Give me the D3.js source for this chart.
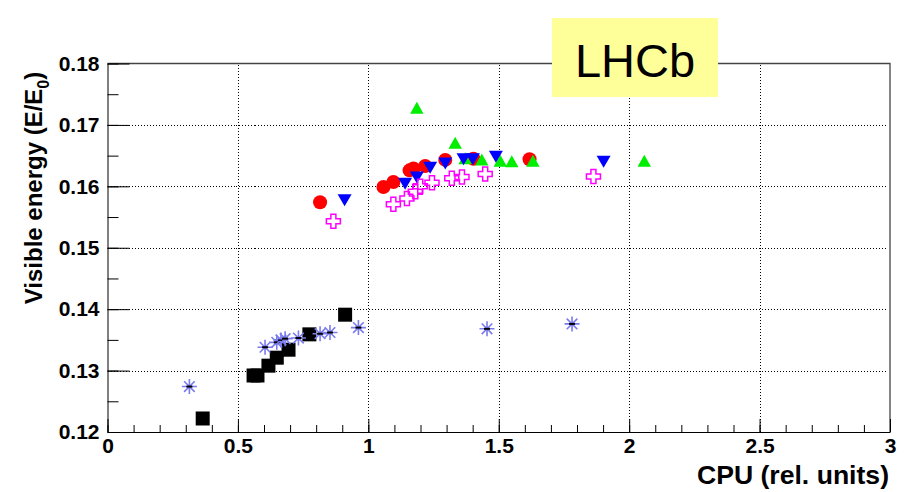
<!DOCTYPE html>
<html lang="en">
<head>
<meta charset="UTF-8">
<title>Visible energy vs CPU</title>
<script src="https://cdn.jsdelivr.net/npm/d3@7"></script>
<style>
    body { margin: 0; background: #fff; }
    svg { font-family: "Liberation Sans", Arial, sans-serif; }
    .tick text { font-weight: bold; fill: #000; }
    .grid line { stroke: #000; stroke-dasharray: 1,2; shape-rendering: crispEdges; }
</style>
</head>
<body>
<div id="chart"></div>
<script>
// axis ranges and ticks
var xMajor = [0, 0.5, 1, 1.5, 2, 2.5, 3];
var xLabels = ["0", "0.5", "1", "1.5", "2", "2.5", "3"];
var yMajor = [0.12, 0.13, 0.14, 0.15, 0.16, 0.17, 0.18];
var yLabels = ["0.12", "0.13", "0.14", "0.15", "0.16", "0.17", "0.18"];

// red full circles
var cpuRed = [0.815, 1.058, 1.096, 1.158, 1.173, 1.218, 1.295, 1.403, 1.618];
var visRed = [0.1574, 0.1599, 0.1607, 0.1626, 0.1629, 0.1633, 0.1643, 0.1645, 0.1644];

// green up triangles
var cpuGreen = [1.186, 1.333, 1.371, 1.435, 1.506, 1.550, 1.631, 2.058];
var visGreen = [0.1727, 0.1670, 0.1645, 0.1643, 0.1641, 0.1640, 0.1641, 0.1641];

// blue down triangles
var cpuBlue = [0.909, 1.141, 1.186, 1.237, 1.295, 1.365, 1.401, 1.489, 1.902];
var visBlue = [0.1578, 0.1605, 0.1615, 0.1631, 0.1638, 0.1645, 0.1645, 0.1649, 0.1641];

// magenta open crosses
var cpuCross = [0.866, 1.096, 1.148, 1.180, 1.199, 1.244, 1.320, 1.359, 1.448, 1.863];
var visCross = [0.1543, 0.1571, 0.1580, 0.1591, 0.1600, 0.1606, 0.1613, 0.1615, 0.1620, 0.1616];

// black squares
var cpuSquare = [0.365, 0.560, 0.575, 0.617, 0.649, 0.694, 0.774, 0.911];
var visSquare = [0.1222, 0.1292, 0.1292, 0.1308, 0.1321, 0.1334, 0.1359, 0.1391];

// blue asterisks
var cpuStar = [0.314, 0.604, 0.649, 0.665, 0.681, 0.732, 0.815, 0.853, 0.962, 1.455, 1.781];
var visStar = [0.1274, 0.1338, 0.1346, 0.1350, 0.1352, 0.1353, 0.1360, 0.1362, 0.1370, 0.1368, 0.1376];

var width = 908, height = 492;
var mLeft = 107.5, mRight = 890, mTop = 63.5, mBottom = 432;

var svg = d3.select("#chart").append("svg")
    .attr("width", width)
    .attr("height", height);

var x = d3.scaleLinear().domain([0, 3]).range([mLeft, mRight]);
var y = d3.scaleLinear().domain([0.12, 0.18]).range([mBottom, mTop]);

function zip(a, b) { return a.map(function(v, i) { return [v, b[i]]; }); }

// dotted grid
var grid = svg.append("g").attr("class", "grid");
grid.selectAll(".gx").data(xMajor.slice(1, -1)).enter().append("line")
    .attr("x1", function(d) { return Math.round(x(d)) + 0.5; })
    .attr("x2", function(d) { return Math.round(x(d)) + 0.5; })
    .attr("y1", mBottom).attr("y2", mTop);
grid.selectAll(".gy").data(yMajor.slice(1, -1)).enter().append("line")
    .attr("y1", function(d) { return Math.round(y(d)) + 0.5; })
    .attr("y2", function(d) { return Math.round(y(d)) + 0.5; })
    .attr("x1", mLeft).attr("x2", mRight - 2);

// frame top/right
svg.append("path")
    .attr("d", "M" + mLeft + "," + mTop + "H" + mRight + "V" + mBottom)
    .attr("fill", "none").attr("stroke", "#444").attr("stroke-width", 1.3);

// x axis: minor ticks then major with labels
var xMinor = d3.range(0, 31).map(function(i) { return +(i * 0.1).toFixed(1); });
svg.append("g").attr("transform", "translate(0," + mBottom + ")")
    .call(d3.axisBottom(x).tickValues(xMinor).tickSize(-7).tickSizeOuter(0).tickFormat(""))
    .call(function(g) { g.select(".domain").attr("stroke", "#000"); });
svg.append("g").attr("transform", "translate(0," + mBottom + ")")
    .call(d3.axisBottom(x).tickValues(xMajor).tickSize(-13).tickSizeOuter(0).tickPadding(6)
        .tickFormat(function(d, i) { return xLabels[i]; }))
    .call(function(g) {
        g.select(".domain").remove();
        g.selectAll("text").attr("font-size", 21).attr("font-family", "Liberation Sans, Arial");
    });

// y axis
var yMinor = d3.range(0, 13).map(function(i) { return +(0.12 + i * 0.005).toFixed(3); });
svg.append("g").attr("transform", "translate(" + mLeft + ",0)")
    .call(d3.axisLeft(y).tickValues(yMinor).tickSize(-11).tickSizeOuter(0).tickFormat(""))
    .call(function(g) { g.select(".domain").attr("stroke", "#000"); });
svg.append("g").attr("transform", "translate(" + mLeft + ",0)")
    .call(d3.axisLeft(y).tickValues(yMajor).tickSize(-22).tickSizeOuter(0).tickPadding(8)
        .tickFormat(function(d, i) { return yLabels[i]; }))
    .call(function(g) {
        g.select(".domain").remove();
        g.selectAll("text").attr("font-size", 21).attr("font-family", "Liberation Sans, Arial");
    });

// axis titles
svg.append("text")
    .attr("x", 889).attr("y", 484)
    .attr("text-anchor", "end")
    .attr("font-size", 25).attr("font-weight", "bold")
    .attr("textLength", 192).attr("lengthAdjust", "spacingAndGlyphs")
    .text("CPU (rel. units)");

var yt = svg.append("text")
    .attr("transform", "translate(42,188) rotate(-90)")
    .attr("text-anchor", "middle")
    .attr("font-size", 24).attr("font-weight", "bold");
yt.append("tspan").text("Visible energy (E/E");
yt.append("tspan").attr("font-size", 16).attr("dy", 7).text("0");
yt.append("tspan").attr("dy", -7).text(")");

// markers
svg.append("g").selectAll("rect").data(zip(cpuSquare, visSquare)).enter().append("rect")
    .attr("x", function(d) { return x(d[0]) - 7; })
    .attr("y", function(d) { return y(d[1]) - 7; })
    .attr("width", 14).attr("height", 14).attr("fill", "#000");

var stars = svg.append("g").selectAll("g").data(zip(cpuStar, visStar)).enter().append("g")
    .attr("transform", function(d) { return "translate(" + x(d[0]) + "," + y(d[1]) + ")"; });
stars.append("path")
    .attr("d", "M-7.5,0H7.5M0,-7.5V7.5M-5.3,-5.3L5.3,5.3M-5.3,5.3L5.3,-5.3")
    .attr("stroke", "#7b7bf0").attr("stroke-width", 1.6).attr("fill", "none");
stars.append("path").attr("d", "M-3,0H3").attr("stroke", "#000").attr("stroke-width", 2);

svg.append("g").selectAll("circle").data(zip(cpuRed, visRed)).enter().append("circle")
    .attr("cx", function(d) { return x(d[0]); })
    .attr("cy", function(d) { return y(d[1]); })
    .attr("r", 7).attr("fill", "#ff0000");

svg.append("g").selectAll("path").data(zip(cpuGreen, visGreen)).enter().append("path")
    .attr("transform", function(d) { return "translate(" + x(d[0]) + "," + y(d[1]) + ")"; })
    .attr("d", "M0,-6.5L6.7,5.5H-6.7Z").attr("fill", "#00ee00");

svg.append("g").selectAll("path").data(zip(cpuBlue, visBlue)).enter().append("path")
    .attr("transform", function(d) { return "translate(" + x(d[0]) + "," + y(d[1]) + ")"; })
    .attr("d", "M0,6.5L7,-5.5H-7Z").attr("fill", "#0000ff");

svg.append("g").selectAll("path").data(zip(cpuCross, visCross)).enter().append("path")
    .attr("transform", function(d) { return "translate(" + x(d[0]) + "," + y(d[1]) + ")"; })
    .attr("d", "M-2.5,-7H2.5V-2.5H7V2.5H2.5V7H-2.5V2.5H-7V-2.5H-2.5Z")
    .attr("fill", "none").attr("stroke", "#ff00ff").attr("stroke-width", 1.5);

// LHCb label box
svg.append("rect")
    .attr("x", 552).attr("y", 18).attr("width", 166).attr("height", 79)
    .attr("fill", "#ffff99");
svg.append("text")
    .attr("x", 635).attr("y", 77)
    .attr("text-anchor", "middle")
    .attr("font-size", 47)
    .text("LHCb");
</script>
</body>
</html>
